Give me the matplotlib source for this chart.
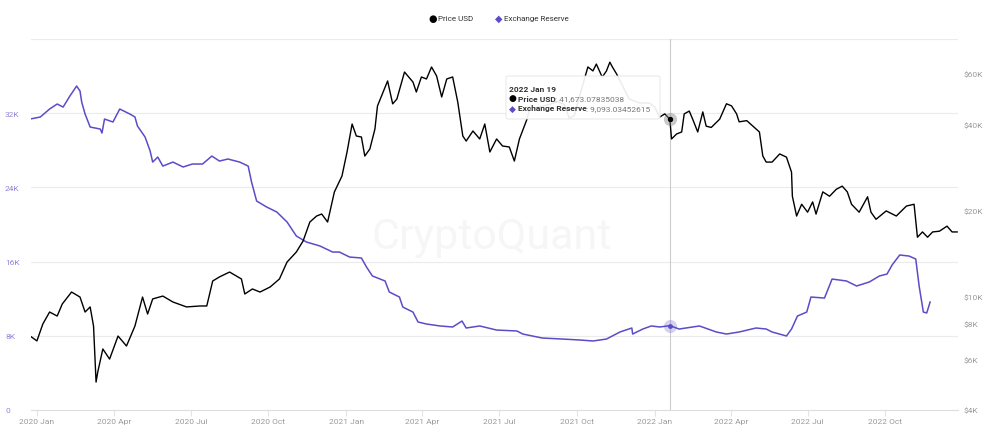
import numpy as np
import pandas as pd
import matplotlib
matplotlib.use('Agg')
import matplotlib.pyplot as plt
import matplotlib.dates as mdates
from matplotlib.ticker import FixedLocator, FuncFormatter, NullLocator
from matplotlib.patches import FancyBboxPatch

plt.rcParams['font.family'] = ['Roboto', 'DejaVu Sans']

# Exchange reserve (BTC)
reserve_dates = [
    '2019-12-24', '2020-01-05', '2020-01-16', '2020-01-25', '2020-02-01', '2020-02-09',
    '2020-02-17', '2020-02-21', '2020-02-23', '2020-02-27', '2020-03-04', '2020-03-16',
    '2020-03-18', '2020-03-21', '2020-03-31', '2020-04-08', '2020-04-20', '2020-04-26',
    '2020-04-29', '2020-05-08', '2020-05-14', '2020-05-17', '2020-05-23', '2020-05-29',
    '2020-06-10', '2020-06-22', '2020-07-03', '2020-07-15', '2020-07-26', '2020-08-04',
    '2020-08-14', '2020-08-28', '2020-09-07', '2020-09-11', '2020-09-17', '2020-09-29',
    '2020-10-11', '2020-10-23', '2020-11-03', '2020-11-15', '2020-12-01', '2020-12-16',
    '2020-12-24', '2021-01-05', '2021-01-19', '2021-01-25', '2021-02-01', '2021-02-16',
    '2021-02-21', '2021-03-05', '2021-03-09', '2021-03-21', '2021-03-27', '2021-04-06',
    '2021-04-22', '2021-05-07', '2021-05-18', '2021-05-23', '2021-06-08', '2021-06-28',
    '2021-07-22', '2021-07-29', '2021-08-21', '2021-09-14', '2021-10-04', '2021-10-20',
    '2021-11-05', '2021-11-21', '2021-12-05', '2021-12-06', '2021-12-18', '2021-12-28',
    '2022-01-07', '2022-01-19', '2022-01-30', '2022-02-23', '2022-03-15', '2022-03-27',
    '2022-04-11', '2022-05-01', '2022-05-13', '2022-05-20', '2022-06-06', '2022-06-12',
    '2022-06-19', '2022-06-30', '2022-07-05', '2022-07-21', '2022-07-30', '2022-08-16',
    '2022-08-28', '2022-09-12', '2022-09-24', '2022-10-03', '2022-10-09', '2022-10-18',
    '2022-10-29', '2022-11-06', '2022-11-10', '2022-11-15', '2022-11-19', '2022-11-23',
]
reserve_values = [
    31370, 31590, 32450, 32990, 32660, 33850,
    34930, 34390, 33200, 31910, 30510, 30290,
    29860, 31370, 31050, 32450, 31910, 31590,
    30620, 29430, 27920, 26730, 27270, 26300,
    26730, 26200, 26520, 26520, 27380, 26840,
    27060, 26730, 26300, 24580, 22530, 21880,
    21340, 20270, 18760, 18110, 17680, 17030,
    17030, 16490, 16390, 15420, 14450, 13910,
    12720, 12180, 11100, 10560, 9490, 9270,
    9060, 8950, 9590, 8840, 9060, 8620,
    8520, 8190, 7760, 7650, 7550, 7440,
    7650, 8410, 8840, 8190, 8730, 9060,
    8950, 9093.03, 8730, 9060, 8410, 8190,
    8410, 8840, 8730, 8410, 7980, 8730,
    10130, 10560, 12180, 12070, 14120, 13910,
    13370, 13800, 14450, 14660, 15630, 16710,
    16600, 16280, 13370, 10560, 10460, 11640,
]

# BTC price (USD)
price_dates = [
    '2019-12-24', '2020-01-01', '2020-01-08', '2020-01-16', '2020-01-25', '2020-01-31',
    '2020-02-11', '2020-02-21', '2020-02-27', '2020-03-04', '2020-03-08', '2020-03-11',
    '2020-03-13', '2020-03-19', '2020-03-27', '2020-04-06', '2020-04-16', '2020-04-26',
    '2020-05-05', '2020-05-11', '2020-05-17', '2020-05-29', '2020-06-10', '2020-06-26',
    '2020-07-12', '2020-07-20', '2020-07-27', '2020-08-04', '2020-08-16', '2020-08-30',
    '2020-09-03', '2020-09-12', '2020-09-21', '2020-10-03', '2020-10-14', '2020-10-23',
    '2020-11-03', '2020-11-11', '2020-11-19', '2020-11-27', '2020-12-03', '2020-12-10',
    '2020-12-18', '2020-12-27', '2021-01-02', '2021-01-08', '2021-01-13', '2021-01-19',
    '2021-01-23', '2021-01-29', '2021-02-04', '2021-02-07', '2021-02-19', '2021-02-25',
    '2021-03-02', '2021-03-11', '2021-03-21', '2021-03-25', '2021-03-31', '2021-04-06',
    '2021-04-12', '2021-04-18', '2021-04-24', '2021-04-30', '2021-05-07', '2021-05-13',
    '2021-05-19', '2021-05-23', '2021-05-31', '2021-06-08', '2021-06-14', '2021-06-20',
    '2021-06-28', '2021-07-05', '2021-07-13', '2021-07-19', '2021-07-25', '2021-08-03',
    '2021-08-06', '2021-08-18', '2021-08-30', '2021-09-08', '2021-09-16', '2021-09-22',
    '2021-09-28', '2021-10-04', '2021-10-10', '2021-10-14', '2021-10-20', '2021-10-24',
    '2021-10-31', '2021-11-05', '2021-11-09', '2021-11-12', '2021-11-17', '2021-11-23',
    '2021-12-02', '2021-12-14', '2021-12-26', '2022-01-01', '2022-01-07', '2022-01-13',
    '2022-01-19', '2022-01-21', '2022-01-27', '2022-02-02', '2022-02-05', '2022-02-11',
    '2022-02-15', '2022-02-21', '2022-02-27', '2022-03-03', '2022-03-09', '2022-03-19',
    '2022-03-27', '2022-04-02', '2022-04-08', '2022-04-11', '2022-04-20', '2022-04-29',
    '2022-05-05', '2022-05-09', '2022-05-13', '2022-05-20', '2022-05-29', '2022-06-06',
    '2022-06-12', '2022-06-13', '2022-06-18', '2022-06-24', '2022-07-01', '2022-07-07',
    '2022-07-11', '2022-07-19', '2022-07-27', '2022-08-04', '2022-08-11', '2022-08-17',
    '2022-08-22', '2022-08-31', '2022-09-10', '2022-09-14', '2022-09-20', '2022-10-02',
    '2022-10-14', '2022-10-26', '2022-11-04', '2022-11-08', '2022-11-14', '2022-11-20',
    '2022-11-26', '2022-12-04', '2022-12-13', '2022-12-19', '2022-12-25',
]
price_values = [
    7260, 6980, 8000, 8810, 8530, 9400,
    10350, 9940, 8810, 9180, 7870, 5010,
    5430, 6540, 6030, 7260, 6700, 7870,
    9940, 8670, 9790, 10020, 9550, 9180,
    9250, 9250, 11310, 11690, 12160, 11500,
    10190, 10610, 10350, 10780, 11500, 13180,
    14290, 15620, 18200, 19100, 19410, 18200,
    23180, 26370, 32000, 40090, 36400, 36100,
    30980, 32780, 38510, 46350, 56720, 47160,
    49050, 60960, 56240, 51890, 58570, 57640,
    63480, 59030, 49850, 57640, 58570, 47890,
    36400, 34950, 37900, 35540, 40090, 32000,
    35540, 33580, 33320, 29750, 35540, 41730,
    45230, 46000, 47000, 48000, 47000, 42000,
    43000, 50000, 57600, 63500, 61500, 65000,
    58500, 61500, 66000, 63500, 60000, 55300,
    49000, 47500, 47500, 46000, 42400, 43500,
    41673.08, 35540, 37000, 37600, 43500, 44500,
    41700, 37600, 44200, 39400, 39000, 41700,
    47200, 46400, 43500, 40800, 41200, 39000,
    37600, 31000, 29500, 29500, 31500, 30700,
    27200, 22400, 19100, 21000, 19700, 21400,
    19400, 23200, 22400, 23700, 24300, 23200,
    21000, 19700, 22300, 19700, 18600, 19900,
    19100, 20700, 21000, 16100, 16800, 16100,
    16800, 16900, 17600, 16800, 16800,
]

left_ticks = [0, 8000, 16000, 24000, 32000]
left_labels = ['0', '8K', '16K', '24K', '32K']
right_ticks = [4000, 6000, 8000, 10000, 20000, 40000, 60000]
right_labels = ['$4K', '$6K', '$8K', '$10K', '$20K', '$40K', '$60K']

purple = '#5b4cc8'
grid_c = '#ebebeb'
label_c = '#9a9a9a'

rd = pd.to_datetime(reserve_dates)
pdt = pd.to_datetime(price_dates)

fig = plt.figure(figsize=(10, 4.35), dpi=100)
ax = fig.add_axes([0.031, 1 - 411 / 435, 0.927, 371 / 435])
ax2 = ax.twinx()

ax.set_ylim(0, 40000)
ax2.set_yscale('log')
ax2.set_ylim(4000, 4000 * 10 ** (371 / 285.7))
x0, x1 = pd.Timestamp('2019-12-25'), pd.Timestamp('2022-12-26')
ax.set_xlim(x0, x1)

# gridlines follow the left axis
for v in left_ticks[1:] + [40000]:
    ax.axhline(v, color=grid_c, lw=0.8, zorder=0)

ax.plot(rd, reserve_values, color=purple, lw=1.1, zorder=3)
ax2.plot(pdt, price_values, color='black', lw=1.0, zorder=3)

# crosshair and hover points
hover = pd.Timestamp('2022-01-19')
ax.axvline(hover, color='#cccccc', lw=0.8, zorder=1)
ax.scatter([hover], [9093.03], s=90, color=purple, alpha=0.25, lw=0, zorder=4)
ax.scatter([hover], [9093.03], s=6, color=purple, zorder=5)
ax2.scatter([hover], [41673.08], s=90, color='#888888', alpha=0.45, lw=0, zorder=4)
ax2.scatter([hover], [41673.08], s=8, color='black', zorder=5)

# axes styling
for a in (ax, ax2):
    for s in a.spines.values():
        s.set_visible(False)
ax.spines['bottom'].set_visible(True)
ax.spines['bottom'].set_color('#dddddd')
ax.spines['bottom'].set_linewidth(0.8)

ax.set_yticks(left_ticks)
ax.set_yticklabels(left_labels)
ax.tick_params(axis='y', length=0, labelsize=6, labelcolor='#8f86d8', pad=0)
for t in ax.get_yticklabels():
    t.set_horizontalalignment('left')
    t.set_x(-0.028)

ax2.yaxis.set_major_locator(FixedLocator(right_ticks))
ax2.yaxis.set_minor_locator(NullLocator())
ax2.set_yticklabels(right_labels)
ax2.tick_params(axis='y', length=0, labelsize=6, labelcolor=label_c, pad=4)

quarters = pd.date_range('2020-01-01', '2022-10-01', freq='QS')
ax.set_xticks(quarters)
ax.set_xticklabels([d.strftime('%Y %b') for d in quarters])
ax.tick_params(axis='x', length=4, color='#e3e3e3', labelsize=6, labelcolor=label_c, pad=2)

# watermark
fig.text(0.492, 1 - 237 / 435, 'CryptoQuant', fontsize=31, color='#f6f6f6',
         ha='center', va='center', zorder=0)

# legend
ly = 1 - 19 / 435
fig.text(0.4325, ly, '\u25cf', fontsize=7, color='black', ha='center', va='center')
fig.text(0.438, ly, 'Price USD', fontsize=5.8, color='#333333', ha='left', va='center')
fig.text(0.4985, ly, '\u25c6', fontsize=7, color=purple, ha='center', va='center')
fig.text(0.504, ly, 'Exchange Reserve', fontsize=5.8, color='#333333', ha='left', va='center')

# tooltip
box = FancyBboxPatch((0.506, 1 - 120 / 435), 0.154, 43 / 435,
                     boxstyle='round,pad=0,rounding_size=0.003',
                     transform=fig.transFigure, facecolor='white', alpha=0.92,
                     edgecolor='#e2e2e2', lw=0.6, zorder=10)
fig.add_artist(box)
fig.text(0.5095, 1 - 89 / 435, '2022 Jan 19', fontsize=6, fontweight='bold',
         color='#333333', va='center', zorder=11)

renderer = fig.canvas.get_renderer()
rows = [
    (1 - 99 / 435, '\u25cf', 'black', 'Price USD', ': 41,673.07835038'),
    (1 - 109 / 435, '\u25c6', purple, 'Exchange Reserve', ': 9,093.03452615'),
]
for yy, mk, mc, name, val in rows:
    fig.text(0.5125, yy, mk, fontsize=6.5, color=mc, ha='center', va='center', zorder=11)
    t = fig.text(0.5175, yy, name, fontsize=6, fontweight='bold', color='#333333',
                 va='center', zorder=11)
    bb = t.get_window_extent(renderer=renderer)
    fig.text(bb.x1 / fig.bbox.width, yy, val, fontsize=6, color='#777777',
             va='center', zorder=11)

fig.savefig('out.png', dpi=100, facecolor='white')
